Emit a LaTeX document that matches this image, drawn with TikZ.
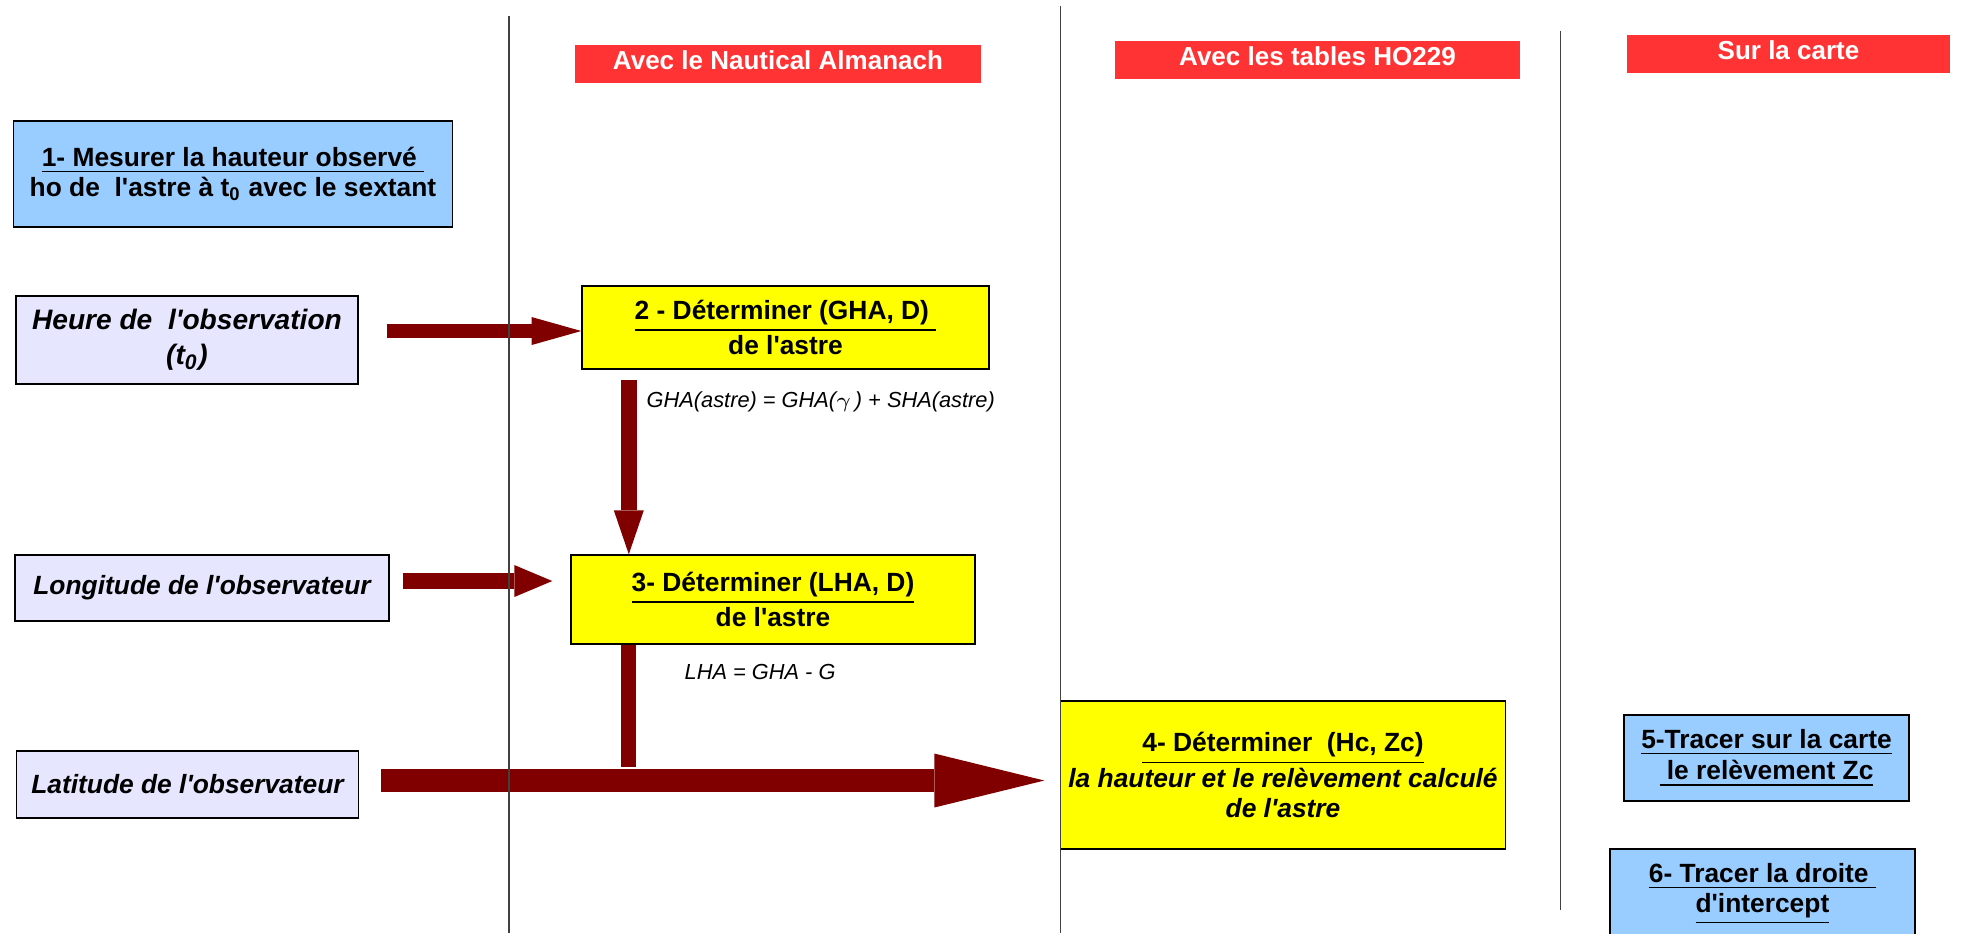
\documentclass[tikz,border=0pt]{standalone}
\usepackage{fontspec}
\setmainfont{Liberation Sans}[Ligatures=TeXOff]
\usetikzlibrary{arrows.meta}
\definecolor{rouge}{HTML}{FF3333}
\definecolor{jaune}{HTML}{FFFF00}
\definecolor{bleu}{HTML}{99CCFF}
\definecolor{lavande}{HTML}{E6E6FF}
\definecolor{bordeaux}{HTML}{800000}

\begin{document}
\begin{tikzpicture}[x=0.1mm, y=-0.1mm,
    etape/.style ={rectangle, draw, line width=0.4pt, inner sep=0pt, align=center,
      font=\fontsize{7.5}{8.5}\selectfont\bfseries},
    donnee/.style ={etape, fill=lavande, font=\fontsize{7.5}{8.5}\selectfont\bfseries\itshape},
    titre/.style ={rectangle, fill=rouge, text=white, inner sep=0pt, text depth=0.8mm,
      minimum height=3.8mm, font=\fontsize{7.4}{8.5}\selectfont\bfseries},
    formule/.style ={inner sep=0pt, anchor=west, font=\fontsize{6.2}{7}\selectfont\itshape},
    fleche/.style ={draw=bordeaux},
    colonne/.style ={draw=black!75, line width=0.35pt}]
   \useasboundingbox (0,0) rectangle (1968,933);
   % titres des colonnes
   \node[titre, minimum width=40.6mm] (T1) at (778,64) {Avec le Nautical Almanach};
   \node[titre, minimum width=40.5mm] (T2) at (1317.5,60) {Avec les tables HO229};
   \node[titre, minimum width=32.3mm] (T3) at (1788.5,54) {Sur la carte};
   % donnees
   \node[etape, fill=bleu, minimum width=43.9mm, minimum height=10.6mm] (mesure) at (233,174)
     {\underline{1- Mesurer la hauteur observé }\\ho de\ \ l'astre à t\textsubscript{0} avec le sextant};
   \node[donnee, font=\fontsize{8}{10}\selectfont\bfseries\itshape, minimum width=34.2mm,
     minimum height=8.8mm] (heure) at (187,340) {Heure de\ \ l'observation\\(t\textsubscript{0})};
   \node[donnee, minimum width=37.4mm, minimum height=6.6mm] (longitude) at (202,588) {Longitude de l'observateur};
   \node[donnee, minimum width=34.2mm, minimum height=6.7mm] (latitude) at (187.5,784.5) {Latitude de l'observateur};
   % etapes
   \node[etape, fill=jaune, minimum width=40.7mm, minimum height=8.3mm] (ghad) at (785.5,327.5)
     {\underline{2 - Déterminer (GHA, D) }\\de l'astre};
   \node[etape, fill=jaune, minimum width=40.4mm, minimum height=8.9mm] (lhad) at (773,599.5)
     {\underline{3- Déterminer (LHA, D)}\\de l'astre};
   \node[etape, fill=jaune, minimum width=44.5mm, minimum height=14.8mm] (hczc) at (1283,775)
     {\underline{4- Déterminer\ \ (Hc, Zc)}\\\textit{la hauteur et le relèvement calculé}\\\textit{de l'astre}};
   \node[etape, fill=bleu, font=\fontsize{7.5}{9}\selectfont\bfseries, minimum width=28.5mm,
     minimum height=8.6mm] (zc) at (1766.5,758) {\underline{5-Tracer sur la carte}\\\underline{ le relèvement Zc}};
   \node[etape, fill=bleu, minimum width=30.5mm, minimum height=9mm] (droite) at (1762.4,894)
     {\underline{6- Tracer la droite }\\\underline{d'intercept}};
   % formules
   \node[formule] (gha) at (646,401.5) {GHA(astre) = GHA($\gamma$\,) + SHA(astre)};
   \node[formule] (lha) at (684,672) {LHA = GHA - G};
   % fleches
   \draw[fleche, line width=1.43mm, -{Triangle[width=2.8mm,length=4.97mm,line width=0pt]}]
     ([xshift=2.8mm,yshift=-0.35mm]heure.east |- ghad.west) -- ([yshift=-0.35mm]ghad.west);
   \coordinate (g1) at ([xshift=4.75mm,yshift=-1mm]ghad.south west);
   \draw[fleche, line width=1.56mm, -{Triangle[width=3mm,length=4.4mm,line width=0pt]}]
     (g1) -- (g1 |- lhad.north);
   \draw[fleche, line width=1.63mm, -{Triangle[width=3.2mm,length=3.8mm,line width=0pt]}]
     ([xshift=1.3mm,yshift=0.7mm]longitude.east) -- ([xshift=-1.8mm,yshift=0.7mm]lhad.west |- longitude.east);
   \coordinate (l1) at ([xshift=5.8mm]lhad.south west);
   \draw[fleche, line width=1.5mm] (l1) -- ([yshift=1.75mm]l1 |- latitude.east);
   \draw[fleche, line width=2.24mm, -{Triangle[width=5.4mm,length=11mm,line width=0pt]}]
     ([xshift=2.2mm,yshift=0.4mm]latitude.east) -- ([xshift=-1.55mm,yshift=0.4mm]hczc.west |- latitude.east);
   % colonnes
   \draw[colonne] (509,16) -- (509,933);
   \draw[colonne] (1060.5,6) -- (1060.5,933);
   \draw[colonne] (1560.5,31) -- (1560.5,910);
\end{tikzpicture}
\end{document}
